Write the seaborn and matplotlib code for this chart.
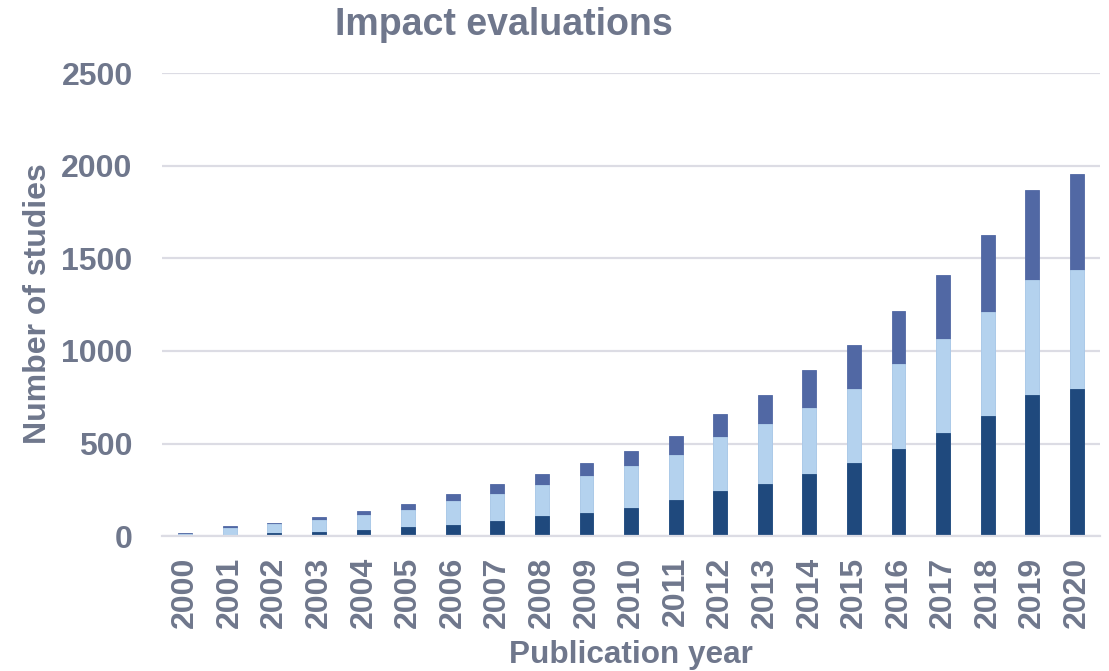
import matplotlib
matplotlib.use("Agg")
import matplotlib.pyplot as plt
import seaborn as sns
import numpy as np
import pandas as pd

years = [str(y) for y in range(2000, 2021)]
seg_bottom = [2, 8, 16, 22, 31, 47, 62, 79, 106, 126, 153, 193, 245, 283, 333, 395, 472, 555, 648, 764, 796]
seg_middle = [12, 35, 47, 64, 81, 95, 125, 150, 172, 198, 227, 247, 288, 320, 360, 401, 455, 511, 562, 619, 639]
seg_top = [4, 9, 9, 15, 21, 29, 38, 50, 59, 72, 81, 102, 128, 160, 202, 235, 288, 346, 418, 488, 522]

y_ticks = [0, 500, 1000, 1500, 2000, 2500]
title = "Impact evaluations"
x_label = "Publication year"
y_label = "Number of studies"

c_bottom = "#1F497D"
c_middle = "#B4D2EE"
c_top = "#5168A4"
text_c = "#6F778C"
grid_c = "#DCDCE4"

sns.set_theme(style="white")
plt.rcParams["font.family"] = ["Liberation Sans", "DejaVu Sans"]
plt.rcParams["font.weight"] = "bold"

df = pd.DataFrame({"year": years, "bottom": seg_bottom, "middle": seg_middle, "top": seg_top})
df["cum_mid"] = df["bottom"] + df["middle"]
df["cum_top"] = df["cum_mid"] + df["top"]

fig = plt.figure(figsize=(11.09, 6.71), dpi=100)
ax = fig.add_axes([0.146, 0.201, 0.846, 0.690])

for col, c in [("cum_top", c_top), ("cum_mid", c_middle), ("bottom", c_bottom)]:
    sns.barplot(data=df, x="year", y=col, color=c, width=0.31, ax=ax,
                saturation=1, edgecolor=c, linewidth=0.6, zorder=3)

ax.set_ylim(0, 2500)
ax.set_xlim(-0.52, len(years) - 0.48)
ax.set_yticks(y_ticks)
ax.set_yticklabels([str(t) for t in y_ticks])
ax.yaxis.grid(True, color=grid_c, linewidth=1.6, zorder=0)
ax.set_axisbelow(True)
for s in ["top", "right", "left"]:
    ax.spines[s].set_visible(False)
ax.spines["bottom"].set_color(grid_c)
ax.spines["bottom"].set_linewidth(1.6)
ax.spines["bottom"].set_zorder(4)

ax.tick_params(axis="y", length=0, pad=21, labelsize=23, labelcolor=text_c)
ax.tick_params(axis="x", length=0, pad=15, labelsize=23, labelcolor=text_c, rotation=90)
for lab in ax.get_xticklabels() + ax.get_yticklabels():
    lab.set_fontweight("bold")

ax.set_xlabel("")
ax.set_ylabel("")
fig.text(0.034, 0.547, y_label, rotation=90, ha="center", va="center",
         fontsize=23, fontweight="bold", color=text_c)
fig.text(0.569, 0.024, x_label, ha="center", va="center",
         fontsize=22.7, fontweight="bold", color=text_c)
fig.text(0.454, 0.963, title, ha="center", va="center",
         fontsize=27, fontweight="bold", color=text_c)

fig.savefig("out.png", dpi=100, facecolor="white")
